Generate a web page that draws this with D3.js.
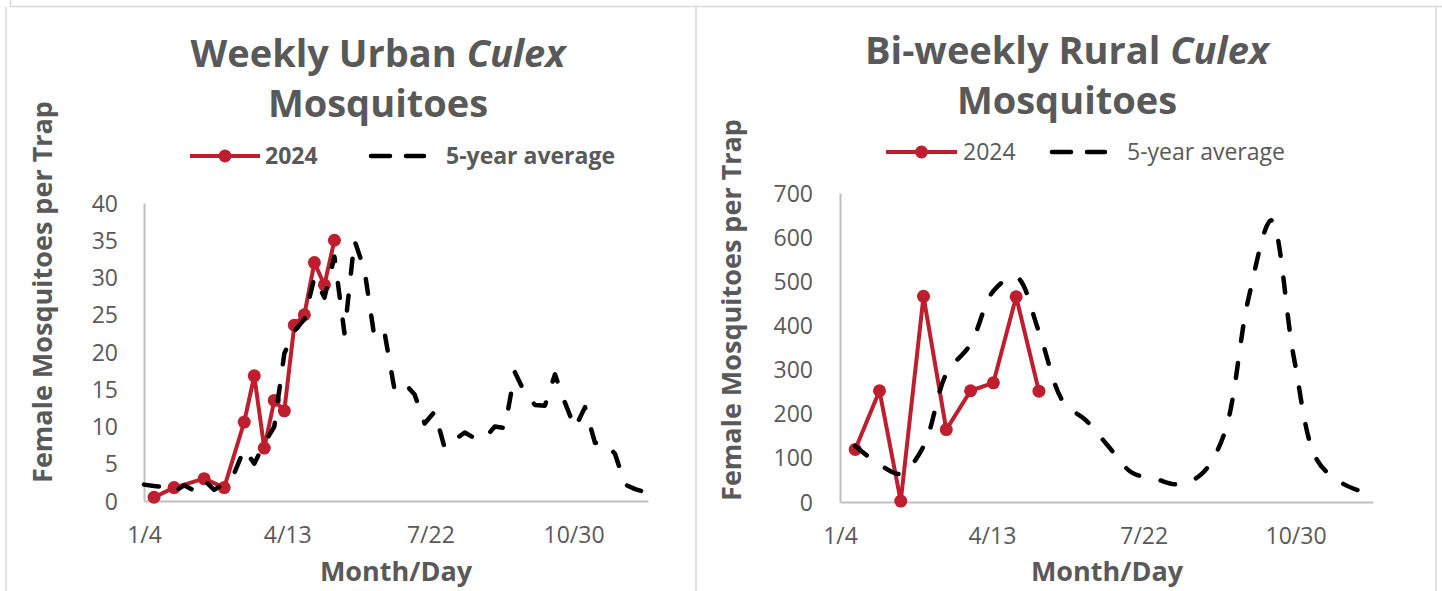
<!DOCTYPE html>
<html><head><meta charset="utf-8">
<script src="https://cdn.jsdelivr.net/npm/d3@7"></script>
<style>
body{margin:0;background:#fff;}
svg{display:block;font-family:"Open Sans",sans-serif;}
</style>
</head><body>
<svg id="c" width="1442" height="591"></svg>
<script>
// ---------- DATA ----------
const xTickLabels = ['1/4', '4/13', '7/22', '10/30'];
const urbanYTicks = [0, 5, 10, 15, 20, 25, 30, 35, 40];
const ruralYTicks = [0, 100, 200, 300, 400, 500, 600, 700];

const urbanWeeks = ['1/4','1/11','1/18','1/25','2/1','2/8','2/15','2/22','2/29','3/7','3/14','3/21','3/28',
  '4/4','4/11','4/18','4/25','5/2','5/9','5/16','5/23','5/30','6/6','6/13','6/20','6/27','7/4','7/11',
  '7/18','7/25','8/1','8/8','8/15','8/22','8/29','9/5','9/12','9/19','9/26','10/3','10/10','10/17',
  '10/24','10/31','11/7','11/14','11/21','11/28','12/5','12/12','12/19'];
const urbanAvg = [2.2,2.0,1.9,1.2,2.1,1.4,2.8,1.5,2.3,3.7,7.0,5.0,7.7,10.0,19.8,22.8,24.4,30.0,27.3,32.8,
  22.5,35.0,31.0,21.9,22.6,14.9,15.8,14.3,10.4,12.0,7.1,8.2,9.2,8.4,8.4,10.0,9.8,17.3,14.5,12.9,12.8,
  17.0,13.2,9.8,12.6,7.8,7.9,6.3,2.2,1.6,1.2];
const urban2024Dates = ['1/11','1/25','2/15','2/29','3/14','3/21','3/28','4/4','4/11','4/18','4/25','5/2','5/9','5/16'];
const urban2024 = [0.5,1.8,3.0,1.8,10.6,16.8,7.1,13.5,12.1,23.6,25.0,32.0,29.0,35.0];

const ruralDates = ['1/14','1/30','2/13','2/28','3/14','3/30','4/14','4/29','5/14','5/30','6/14','6/29',
  '7/14','7/30','8/14','8/29','9/13','9/29','10/14','10/29','11/13','11/29','12/14'];
const ruralAvg = [127,85,64,126,290,358,478,510,386,227,185,125,67,52,40,63,154,461,638,325,96,44,22];
const rural2024 = [119,252,2,466,164,252,270,465,251];

// ---------- DRAW ----------
const parse = d3.timeParse('%m/%d/%Y');
const dt = s => parse(s + '/2024');
const RED = '#be1e2d', GREY = '#595959', AXIS = '#bfbfbf', BORDER = '#d9d9d9';
const svg = d3.select('#c');

// page frame lines
svg.append('line').attr('x1', 10).attr('x2', 1442).attr('y1', 6.5).attr('y2', 6.5).attr('stroke', BORDER).attr('stroke-width', 1.5);
svg.append('line').attr('x1', 10.5).attr('x2', 10.5).attr('y1', 0).attr('y2', 6).attr('stroke', BORDER).attr('stroke-width', 1.5);
[6, 696, 1436].forEach(x => svg.append('line').attr('x1', x).attr('x2', x).attr('y1', 7).attr('y2', 591)
  .attr('stroke', BORDER).attr('stroke-width', 1.5));

function panel(cfg) {
  const g = svg.append('g');
  const x = d3.scaleTime().domain([dt('1/4'), dt(cfg.xEnd)]).range([cfg.left, cfg.right]);
  const y = d3.scaleLinear().domain([0, cfg.yMax]).range([cfg.bottom, cfg.top]);

  // axes
  const yAx = g.append('g').attr('transform', `translate(${cfg.left},0)`)
    .call(d3.axisLeft(y).tickValues(cfg.yTicks).tickSize(0).tickPadding(cfg.left - cfg.yLabelX));
  const xAx = g.append('g').attr('transform', `translate(0,${cfg.bottom})`)
    .call(d3.axisBottom(x).tickValues(xTickLabels.map(dt)).tickFormat((d, i) => xTickLabels[i]).tickSize(0).tickPadding(0));
  [yAx, xAx].forEach(a => {
    a.select('.domain').attr('stroke', AXIS).attr('stroke-width', 2);
    a.selectAll('text').attr('fill', GREY).attr('font-size', 23).attr('font-family', '"Open Sans",sans-serif');
  });
  yAx.selectAll('text').attr('dy', '0.35em');
  xAx.selectAll('text').attr('dy', 0).attr('y', 42);

  // series
  const line = d3.line().x(d => x(d[0])).y(d => y(d[1]));
  const redPts = cfg.redDates.map((s, i) => [dt(s), cfg.red[i]]);
  g.append('path').datum(redPts).attr('d', line).attr('fill', 'none').attr('stroke', RED)
    .attr('stroke-width', 4).attr('stroke-linejoin', 'round');
  g.selectAll('circle.pt').data(redPts).join('circle').attr('class', 'pt')
    .attr('cx', d => x(d[0])).attr('cy', d => y(d[1])).attr('r', 6.5).attr('fill', RED);
  const avgPts = cfg.avgDates.map((s, i) => [dt(s), cfg.avg[i]]);
  const avgLine = d3.line().x(d => x(d[0])).y(d => y(d[1])).curve(cfg.smooth ? d3.curveCatmullRom.alpha(0.5) : d3.curveLinear);
  g.append('path').datum(avgPts).attr('d', avgLine).attr('fill', 'none').attr('stroke', '#000')
    .attr('stroke-width', 4.5).attr('stroke-dasharray', '15,22').attr('stroke-linecap', 'round').attr('stroke-linejoin', 'round');

  // titles
  const t = g.append('text').attr('text-anchor', 'middle').attr('fill', GREY).attr('font-weight', 700).attr('font-size', 38);
  t.append('tspan').attr('x', cfg.titleX).attr('y', cfg.titleY1).text(cfg.title1 + ' ');
  t.append('tspan').attr('font-style', 'italic').text('Culex');
  g.append('text').attr('text-anchor', 'middle').attr('fill', GREY).attr('font-weight', 700).attr('font-size', 38)
    .attr('x', cfg.titleX).attr('y', cfg.titleY2).text('Mosquitoes');

  // legend
  const ly = cfg.legendY;
  g.append('line').attr('x1', cfg.leg[0]).attr('x2', cfg.leg[1]).attr('y1', ly).attr('y2', ly).attr('stroke', RED).attr('stroke-width', 4);
  g.append('circle').attr('cx', (cfg.leg[0] + cfg.leg[1]) / 2).attr('cy', ly).attr('r', 6.5).attr('fill', RED);
  g.append('text').attr('x', cfg.leg[2]).attr('y', ly + 8).attr('fill', GREY).attr('font-size', 23)
    .attr('font-weight', cfg.legendBold ? 700 : 400).text('2024');
  g.append('line').attr('x1', cfg.leg[3]).attr('x2', cfg.leg[4]).attr('y1', ly).attr('y2', ly).attr('stroke', '#000')
    .attr('stroke-width', 4.5).attr('stroke-dasharray', '19,16').attr('stroke-linecap', 'round');
  g.append('text').attr('x', cfg.leg[5]).attr('y', ly + 8).attr('fill', GREY).attr('font-size', 23)
    .attr('font-weight', cfg.legendBold ? 700 : 400).text('5-year average');

  // axis titles
  g.append('text').attr('text-anchor', 'middle').attr('fill', GREY).attr('font-weight', 700).attr('font-size', 27)
    .attr('x', cfg.xTitleX).attr('y', 581).text('Month/Day');
  g.append('text').attr('text-anchor', 'middle').attr('fill', GREY).attr('font-weight', 700).attr('font-size', 27)
    .attr('transform', `translate(${cfg.yTitleX},${cfg.yTitleY}) rotate(-90)`).text('Female Mosquitoes per Trap');
}

panel({
  left: 144, right: 648, top: 203, bottom: 501, yMax: 40, yTicks: urbanYTicks, yLabelX: 118, xEnd: '12/21',
  redDates: urban2024Dates, red: urban2024, avgDates: urbanWeeks, avg: urbanAvg, smooth: false,
  title1: 'Weekly Urban', titleX: 378, titleY1: 67, titleY2: 117,
  legendY: 156, leg: [190, 260, 265, 371, 424, 446], legendBold: true,
  xTitleX: 396, yTitleX: 52, yTitleY: 292
});
panel({
  left: 840, right: 1373, top: 193, bottom: 502, yMax: 700, yTicks: ruralYTicks, yLabelX: 813, xEnd: '12/20',
  redDates: ruralDates.slice(0, rural2024.length), red: rural2024, avgDates: ruralDates, avg: ruralAvg, smooth: true,
  title1: 'Bi-weekly Rural', titleX: 1067, titleY1: 63.5, titleY2: 114,
  legendY: 152, leg: [886, 957, 963, 1052, 1105, 1127], legendBold: false,
  xTitleX: 1107, yTitleX: 741, yTitleY: 310
});
</script>
</body></html>
